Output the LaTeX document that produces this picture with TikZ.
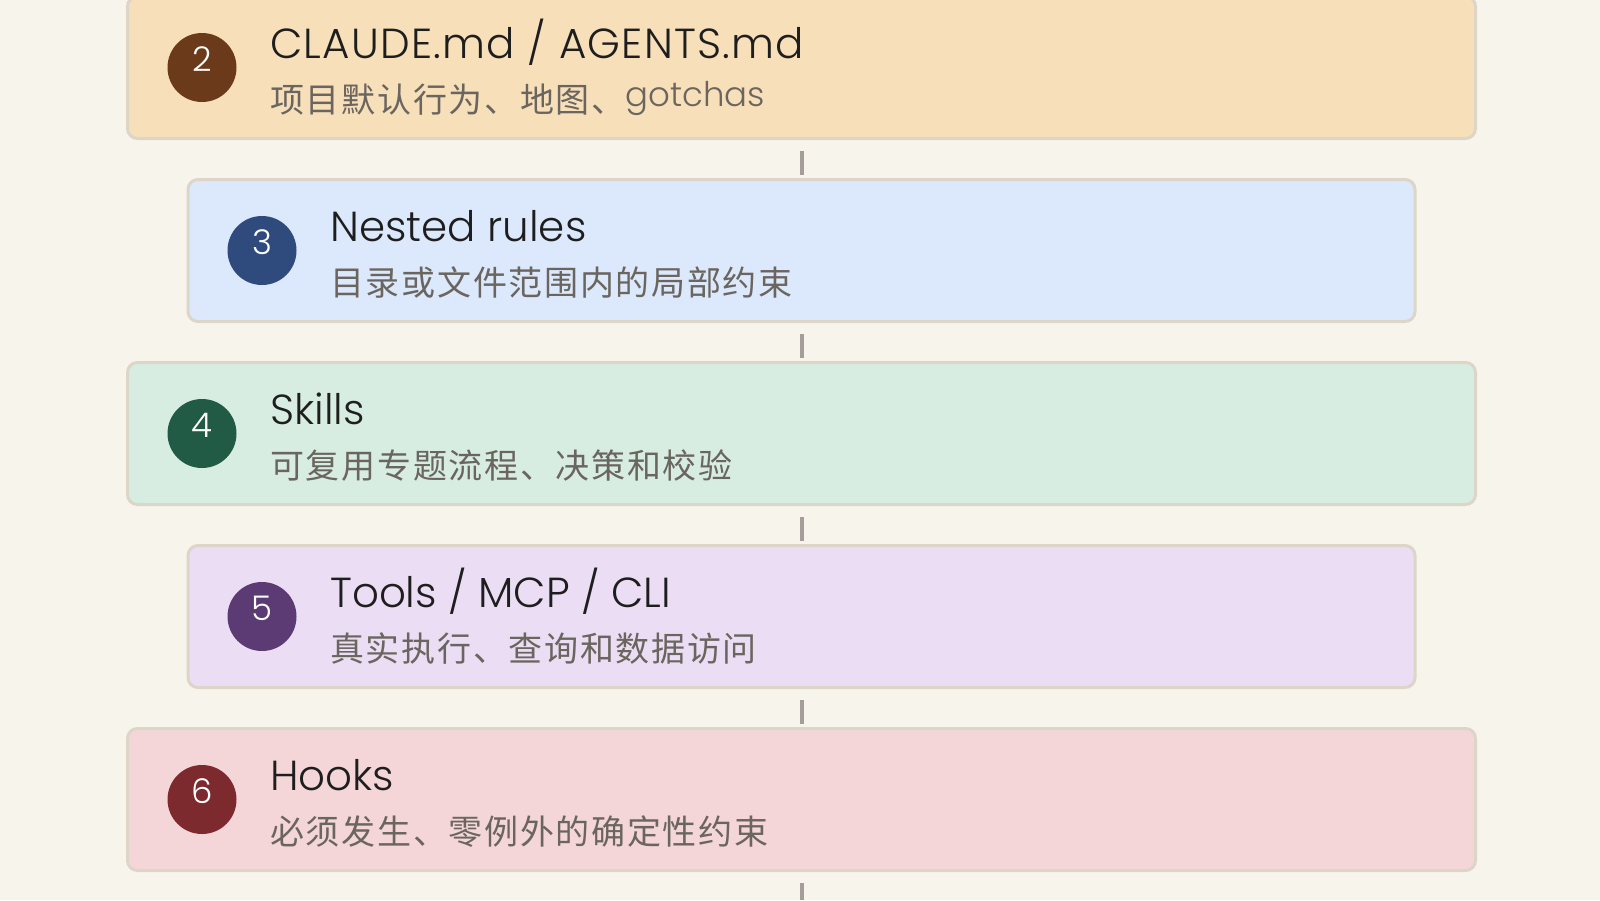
\documentclass[tikz,border=0pt]{standalone}
\usepackage{fontspec}
\setmainfont{Poppins Light}
\newfontfamily\cjk[LetterSpace=5]{Noto Sans CJK SC}
\definecolor{bgc}{HTML}{F7F4EC}
\definecolor{borderc}{HTML}{DDD6C8}
\definecolor{connc}{HTML}{A59D9A}
\definecolor{titlec}{HTML}{1E1E1E}
\definecolor{subc}{HTML}{6A655F}
\definecolor{fillA}{HTML}{F7DFB9}
\definecolor{fillB}{HTML}{DCE8FC}
\definecolor{fillC}{HTML}{D7EDE2}
\definecolor{fillD}{HTML}{EBDDF3}
\definecolor{fillE}{HTML}{F4D6D9}
\definecolor{dotA}{HTML}{6B3A1A}
\definecolor{dotB}{HTML}{2F4A7C}
\definecolor{dotC}{HTML}{215A45}
\definecolor{dotD}{HTML}{5C3A74}
\definecolor{dotE}{HTML}{7D2A2F}
\begin{document}
\begin{tikzpicture}[x=1pt,y=-1pt,
  box/.style={draw=borderc, line width=3pt, rounded corners=10pt, minimum height=142pt, inner sep=0pt},
  wide/.style={box, minimum width=1348pt},
  narrow/.style={box, minimum width=1227pt},
  badge/.style={circle, minimum size=69pt, inner sep=0pt},
  num/.style={inner sep=0pt, text=white, font=\fontsize{34}{34}\selectfont},
  ttl/.style={anchor=base west, inner sep=0pt, text=titlec, font=\fontsize{42}{42}\selectfont},
  sub/.style={anchor=base west, inner sep=0pt, text=subc, font=\fontsize{34}{34}\selectfont},
  conn/.style={draw=connc, line width=4pt}]
\fill[bgc] (0,0) rectangle (1600,900);
\useasboundingbox (0,0) rectangle (1600,900);

% boxes
\node[wide, fill=fillA] (b2) at (801.5,67.5) {};
\node[narrow, fill=fillB] (b3) at (801.5,250.5) {};
\node[wide, fill=fillC] (b4) at (801.5,433.5) {};
\node[narrow, fill=fillD] (b5) at (801.5,616.5) {};
\node[wide, fill=fillE] (b6) at (801.5,799.5) {};

% connectors
\coordinate (end) at (801.5,900);
\draw[conn] ([yshift=-11pt]b2.south) -- ([yshift=3pt]b3.north);
\draw[conn] ([yshift=-11pt]b3.south) -- ([yshift=3pt]b4.north);
\draw[conn] ([yshift=-11pt]b4.south) -- ([yshift=3pt]b5.north);
\draw[conn] ([yshift=-11pt]b5.south) -- ([yshift=3pt]b6.north);
\draw[conn] ([yshift=-11pt]b6.south) -- (end);

% badges
\node[badge, fill=dotA] (n2) at (202,67.5) {};
\node[badge, fill=dotB] (n3) at (262,250.5) {};
\node[badge, fill=dotC] (n4) at (202,433.5) {};
\node[badge, fill=dotD] (n5) at (262,616.5) {};
\node[badge, fill=dotE] (n6) at (202,799.5) {};
\node[num] (d2) at ([yshift=8pt]n2.center) {2};
\node[num] (d3) at ([yshift=8pt]n3.center) {3};
\node[num] (d4) at ([yshift=8pt]n4.center) {4};
\node[num] (d5) at ([yshift=8pt]n5.center) {5};
\node[num] (d6) at ([yshift=8pt]n6.center) {6};

% titles
\node[ttl] (t2) at (270,58.5) {\addfontfeature{LetterSpace=3}CLAUDE.md / AGENTS.md};
\node[ttl] (t3) at (330,241.5) {Nested rules};
\node[ttl] (t4) at (270,424.5) {Skills};
\node[ttl] (t5) at (330,607.5) {Tools / MCP / CLI};
\node[ttl] (t6) at (270,790.5) {Hooks};

% subtitles
\node[sub] (s2) at (270,112.5) {{\cjk 项目默认行为、地图、}\raisebox{6pt}{gotchas}};
\node[sub] (s3) at (330,295.5) {\cjk 目录或文件范围内的局部约束};
\node[sub] (s4) at (270,478.5) {\cjk 可复用专题流程、决策和校验};
\node[sub] (s5) at (330,661.5) {\cjk 真实执行、查询和数据访问};
\node[sub] (s6) at (270,844.5) {\cjk 必须发生、零例外的确定性约束};
\end{tikzpicture}
\end{document}
